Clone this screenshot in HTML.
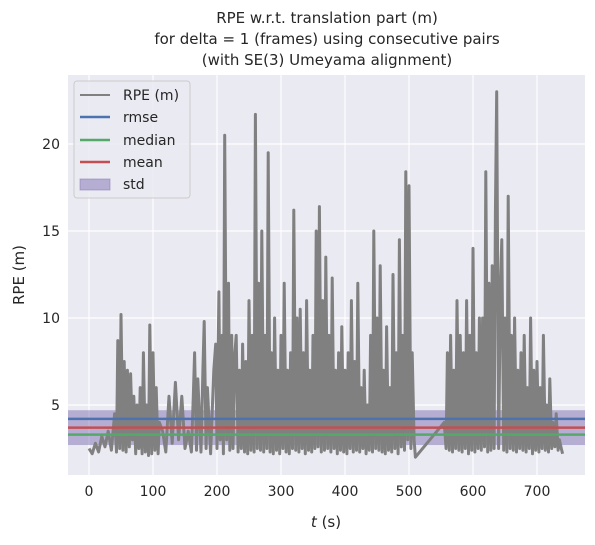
<!DOCTYPE html>
<html><head><meta charset="utf-8"><style>
body{margin:0;background:#fff;font-family:"Liberation Sans","DejaVu Sans",sans-serif;}
svg text{font-family:"DejaVu Sans","Liberation Sans",sans-serif;fill:#262626;}
</style></head><body>
<svg id="chart" width="595" height="540" xmlns="http://www.w3.org/2000/svg">
<g>
<text x="327" y="23" font-size="15" text-anchor="middle">RPE w.r.t. translation part (m)</text>
<text x="327" y="44" font-size="15" text-anchor="middle">for delta = 1 (frames) using consecutive pairs</text>
<text x="327" y="65" font-size="15" text-anchor="middle">(with SE(3) Umeyama alignment)</text>
</g>
<rect x="68" y="75" width="517" height="400" fill="#eaeaf2"/>
<g id="grid"></g><g id="ticks"></g>
<g id="series"></g>
<text x="326" y="527" font-size="15" text-anchor="middle"><tspan font-style="italic">t</tspan> (s)</text>
<text transform="translate(24,275) rotate(-90)" font-size="15" text-anchor="middle">RPE (m)</text>
<g>
<rect x="74" y="81" width="116" height="117" rx="3" fill="#eaeaf2" fill-opacity="0.85" stroke="#cccccc"/>
<line x1="80" y1="95" x2="110" y2="95" stroke="#808080" stroke-width="2"/><text x="123" y="100" font-size="14">RPE (m)</text>
<line x1="80" y1="117" x2="110" y2="117" stroke="#4c72b0" stroke-width="2.5"/><text x="123" y="122" font-size="14">rmse</text>
<line x1="80" y1="140" x2="110" y2="140" stroke="#55a868" stroke-width="2.5"/><text x="123" y="145" font-size="14">median</text>
<line x1="80" y1="162" x2="110" y2="162" stroke="#c44e52" stroke-width="2.5"/><text x="123" y="167" font-size="14">mean</text>
<rect x="80" y="179" width="30" height="11" fill="#8172b2" fill-opacity="0.5" stroke="#8172b2" stroke-opacity="0.5"/><text x="123" y="189" font-size="14">std</text>
</g>
</svg>
<script>
const xTicks=[0,100,200,300,400,500,600,700];
const yTicks=[5,10,15,20];
const stats={rmse:4.2,median:3.3,mean:3.7,std:1.0};
const times=[0,5,10,15,20,25,30,35,40,43,45,48,50,53,55,58,60,63,65,68,70,73,75,78,80,83,85,88,90,93,95,98,100,103,105,108,110,115,120,125,130,135,140,145,150,155,160,163,165,168,170,175,178,180,183,185,190,195,198,200,203,205,208,210,212,215,218,220,223,225,228,230,233,235,238,240,243,245,248,250,253,255,258,260,263,265,268,270,273,275,278,280,283,285,288,290,293,295,298,300,303,305,308,310,313,315,318,320,323,325,328,330,333,335,338,340,343,345,348,350,353,355,358,360,363,365,368,370,373,375,378,380,383,385,388,390,393,395,398,400,403,405,408,410,413,415,418,420,423,425,428,430,433,435,438,440,443,445,448,450,453,455,458,460,463,465,468,470,473,475,478,480,483,485,488,490,493,495,498,500,503,505,508,510,555,558,560,563,565,568,570,573,575,578,580,583,585,588,590,593,595,598,600,603,605,608,610,613,615,618,620,623,625,628,630,633,635,637,640,643,645,648,650,653,655,658,660,663,665,668,670,673,675,678,680,683,685,688,690,693,695,698,700,703,705,708,710,713,715,718,720,723,725,728,730,733,735,738,740];
const rpe=[2.5,2.2,2.8,2.3,3.2,2.6,3.5,2.4,4.5,2.3,8.7,2.5,10.2,2.4,7.5,2.3,7,2.6,6.8,3,5.5,2.2,5,2.5,6,2.2,8,2.3,5,2.1,9.6,2.2,8,2.4,6,2.2,4,3.5,2.3,5.5,2.8,6.3,3,5.5,2.5,3.5,2.3,5.5,8,2.4,6.5,2.3,7,9.8,2.5,6,2.2,7,8.5,2.5,11.5,3,9,2.2,20.5,3,12,2.4,9,2.5,8,9,2.3,7,2.5,8.5,2.3,7.5,2.2,11,2.4,9,2.3,21.7,2.5,12,2.4,15,2.3,9,2.5,19.5,2.3,8,2.2,10,2.4,7,2.2,9,2.5,12,2.3,7,2.2,8,2.5,16.2,2.4,10,2.3,10.5,2.5,8,2.2,11,2.4,7,2.3,9,2.5,15,2.6,16.4,2.3,11,2.4,13.5,2.5,9,2.3,12.3,2.5,7,2.2,8,2.4,9.5,2.3,7,2.2,8,2.5,11,2.3,7.5,2.4,12,2.3,6,2.5,7,2.2,5,2.4,9,2.3,15,2.5,10,2.4,13,2.3,7,2.2,9.5,2.4,6,2.3,12.5,2.5,8,2.2,14.5,2.6,9,2.4,18.4,3,17.6,2.5,8,3,2,4,2.5,8,2.4,9,2.3,7,2.5,11,2.4,9,2.3,8,2.5,11,2.2,9,2.4,14,2.3,8,2.5,10,2.4,10,2.6,18.4,2.3,12,2.4,13,2.5,16,23,2.5,12,14.5,2.4,10,2.3,17,2.5,9,2.4,10,2.3,7,2.5,8,2.4,9,2.3,6,2.5,10,2.2,7,2.4,7.5,2.3,6,2.5,9,2.4,5,2.3,6.5,2.5,4,2.6,4.5,2.4,3,2.5,2.2];
const NS="http://www.w3.org/2000/svg";
const L=68,R=585,T=75,B=475;
const xs=t=>89+(537-89)*t/700;
const ys=v=>492-(492-405)*v/5;
function mk(tag,attrs,parent){const e=document.createElementNS(NS,tag);for(const k in attrs)e.setAttribute(k,attrs[k]);document.getElementById(parent).appendChild(e);return e;}
xTicks.forEach(t=>{
 const g=mk('line',{x1:xs(t),x2:xs(t),y1:T,y2:B,stroke:'#fff','stroke-width':1.2},'grid');
 
 
 const l=mk('text',{x:xs(t),y:B+21,'font-size':14,'text-anchor':'middle'},'ticks');l.textContent=t;
 
 
});
yTicks.forEach(v=>{
 const g=mk('line',{x1:L,x2:R,y1:ys(v),y2:ys(v),stroke:'#fff','stroke-width':1.2},'grid');
 
 
 const l=mk('text',{x:L-8,y:ys(v)+5,'font-size':14,'text-anchor':'end'},'ticks');l.textContent=v;
 
 
});
const n=Math.min(times.length,rpe.length);
let d='';for(let i=0;i<n;i++)d+=(i?'L':'M')+xs(times[i]).toFixed(1)+' '+ys(rpe[i]).toFixed(1);
const band=mk('rect',{x:L,width:R-L,y:ys(stats.mean+stats.std),height:ys(stats.mean-stats.std)-ys(stats.mean+stats.std),fill:'#8172b2','fill-opacity':0.5},'series');


const p=mk('path',{d:d,fill:'none',stroke:'#808080','stroke-width':3,'stroke-linejoin':'round'},'series');


[['rmse','#4c72b0'],['mean','#c44e52'],['median','#55a868']].forEach(([k,c])=>{
 const l=mk('line',{x1:L,x2:R,y1:ys(stats[k]),y2:ys(stats[k]),stroke:c,'stroke-width':2.5},'series');
 
 
});
</script>
</body></html>
